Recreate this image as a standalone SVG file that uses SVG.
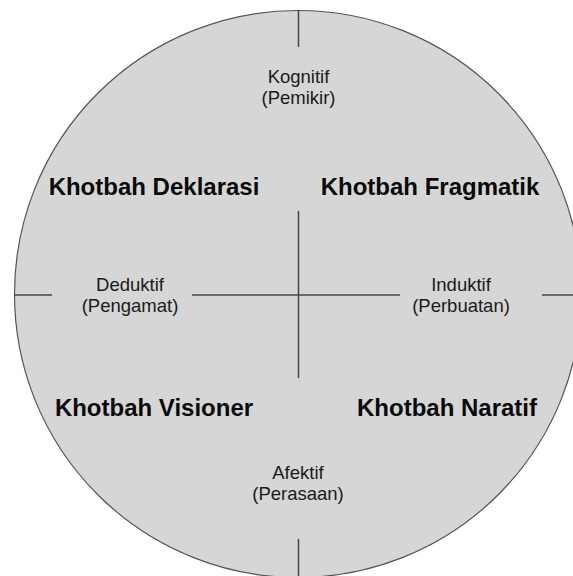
<svg xmlns="http://www.w3.org/2000/svg" width="573" height="576" viewBox="0 0 573 576">
<style>
.lbl{font-family:"Liberation Sans",Arial,sans-serif;font-size:18.5px;fill:#1a1a1a;text-anchor:middle}
.ttl{font-family:"Liberation Sans",Arial,sans-serif;font-size:24px;font-weight:bold;fill:#0a0a0a;text-anchor:middle}
.ln{stroke:#444;stroke-width:1.5;fill:none}
</style>
<rect width="573" height="576" fill="#ffffff"/>
<g id="circle">
<circle cx="298" cy="294" r="283.5" fill="#d6d6d6" stroke="#555" stroke-width="1.2"/>
</g>
<g id="connectors">
<line class="ln" x1="298.5" y1="10" x2="298.5" y2="47"/>
<line class="ln" x1="298.5" y1="211" x2="298.5" y2="378"/>
<line class="ln" x1="298.5" y1="539" x2="298.5" y2="578"/>
<line class="ln" x1="14" y1="295" x2="52" y2="295"/>
<line class="ln" x1="192" y1="295" x2="400" y2="295"/>
<line class="ln" x1="542" y1="295" x2="573" y2="295"/>
</g>
<g id="kognitif">
<text class="lbl" x="298.5" y="83">Kognitif</text>
<text class="lbl" x="298.5" y="104">(Pemikir)</text>
</g>
<g id="deduktif">
<text class="lbl" x="130" y="291">Deduktif</text>
<text class="lbl" x="130" y="312">(Pengamat)</text>
</g>
<g id="induktif">
<text class="lbl" x="461" y="291">Induktif</text>
<text class="lbl" x="461" y="312">(Perbuatan)</text>
</g>
<g id="afektif">
<text class="lbl" x="298" y="479">Afektif</text>
<text class="lbl" x="298" y="500">(Perasaan)</text>
</g>
<g id="deklarasi">
<text class="ttl" x="154" y="195">Khotbah Deklarasi</text>
</g>
<g id="fragmatik">
<text class="ttl" x="430" y="195">Khotbah Fragmatik</text>
</g>
<g id="visioner">
<text class="ttl" x="154" y="416">Khotbah Visioner</text>
</g>
<g id="naratif">
<text class="ttl" x="447" y="416">Khotbah Naratif</text>
</g>
</svg>
